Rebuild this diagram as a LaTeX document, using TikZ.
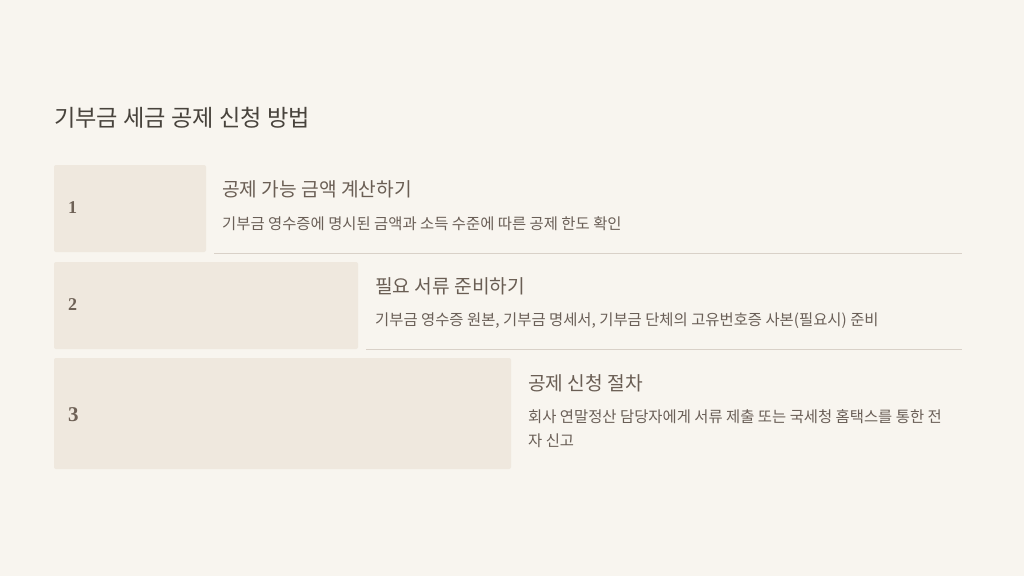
\documentclass[tikz,border=0pt]{standalone}
\usepackage{fontspec}
\setmainfont{Noto Sans CJK KR}
\newfontfamily\numfont{Liberation Serif}
\definecolor{bgc}{HTML}{F8F5EF}
\definecolor{boxc}{HTML}{EFE8DE}
\definecolor{linec}{HTML}{D9D1C8}
\definecolor{titlec}{HTML}{48433C}
\definecolor{headc}{HTML}{6A5E54}
\definecolor{bodyc}{HTML}{6A5F57}
\definecolor{numc}{HTML}{6E6156}
\begin{document}
\begin{tikzpicture}[x=1pt,y=-1pt,
  stepbox/.style={fill=boxc,draw=none,rounded corners=2pt},
  numlabel/.style={anchor=west,text=numc,font=\numfont\bfseries\fontsize{18}{21}\selectfont,inner sep=0pt},
  headlabel/.style={anchor=west,text=headc,font=\fontsize{19.2}{23}\selectfont,inner sep=0pt},
  bodylabel/.style={anchor=north west,text=bodyc,font=\fontsize{15.4}{24}\selectfont,inner sep=0pt,align=left},
  sepline/.style={draw=linec,line width=1pt}]
\useasboundingbox[fill=bgc] (0,0) rectangle (1024,576);
\node[anchor=west,text=titlec,font=\fontsize{23.2}{27}\selectfont,inner sep=0pt] (title) at (54,118) {기부금 세금 공제 신청 방법};
% step 1
\fill[stepbox] (54,165) rectangle (206,252);
\node[numlabel] (n1) at (68,208) {1};
\node[headlabel] (h1) at (222,189) {공제 가능 금액 계산하기};
\node[bodylabel] (b1) at (222,216) {기부금 영수증에 명시된 금액과 소득 수준에 따른 공제 한도 확인};
\coordinate (l1a) at (214,253.5);
\coordinate (l1b) at (962,253.5);
\draw[sepline] (l1a) -- (l1b);
% step 2
\fill[stepbox] (54,262) rectangle (358,349);
\node[numlabel] (n2) at (68,305) {2};
\node[headlabel] (h2) at (375,286) {필요 서류 준비하기};
\node[bodylabel] (b2) at (375,313) {기부금 영수증 원본, 기부금 명세서, 기부금 단체의 고유번호증 사본(필요시) 준비};
\coordinate (l2a) at (366,349.5);
\coordinate (l2b) at (962,349.5);
\draw[sepline] (l2a) -- (l2b);
% step 3
\fill[stepbox] (54,358) rectangle (511,469);
\node[numlabel,font=\numfont\bfseries\fontsize{21}{24}\selectfont] (n3) at (68,415) {3};
\node[headlabel] (h3) at (528,383) {공제 신청 절차};
\node[bodylabel] (b3) at (528,409) {회사 연말정산 담당자에게 서류 제출 또는 국세청 홈택스를 통한 전\\자 신고};
\end{tikzpicture}
\end{document}
